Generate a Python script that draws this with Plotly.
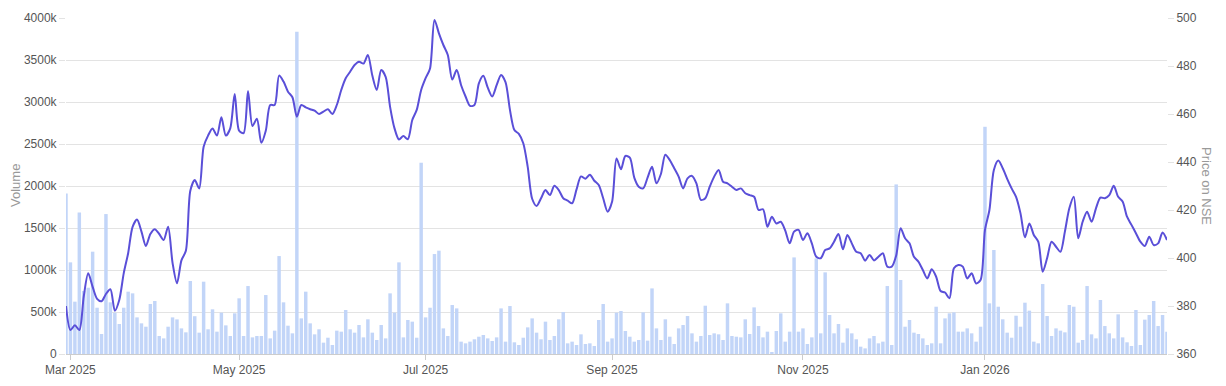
import pandas as pd
import plotly.graph_objects as go

# NSE trading holidays (no bars on these days)
HOLIDAYS = ["2025-03-14", "2025-03-31", "2025-04-10", "2025-04-14", "2025-04-18",
            "2025-05-01", "2025-08-15", "2025-08-27", "2025-10-02", "2025-10-22",
            "2025-11-05", "2025-12-25", "2026-01-26"]

# Daily volume, in thousands of shares
VOLUME_K = [
    1912, 1091, 623, 1686, 750, 789, 1218, 551, 238, 1666, 615, 492, 357, 551, 742, 722,
    436, 365, 325, 595, 631, 214, 186, 325, 436, 412, 305, 258, 869, 450, 254,
    861, 294, 532, 266, 492, 341, 214, 484, 663, 214, 809, 198, 214, 214, 702, 186,
    278, 1166, 615, 337, 246, 3836, 424, 742, 365, 234, 294, 135, 194, 107,
    278, 266, 524, 294, 254, 345, 198, 413, 254, 167, 345, 186, 722, 492, 1091, 198,
    405, 385, 194, 2277, 436, 551, 1190, 1230, 305, 214, 583, 543, 147,
    127, 147, 175, 206, 226, 186, 155, 198, 543, 147, 571, 139, 107, 194, 317, 424,
    254, 175, 385, 167, 214, 413, 500, 127, 147, 107, 234, 119, 127, 95, 405, 595,
    147, 186, 492, 512, 274, 206, 147, 167, 496, 159, 781, 305, 167, 413, 206, 119,
    305, 345, 452, 246, 147, 214, 575, 226, 246, 234, 167, 603, 214,
    206, 198, 413, 238, 555, 333, 198, 266, 20, 274, 484, 147, 266, 1150, 266, 305,
    119, 198, 1138, 246, 972, 464, 246, 357, 135, 305, 246, 175, 87, 67, 186,
    214, 127, 147, 809, 107, 2019, 881, 325, 405, 254, 238, 186, 107, 127, 563, 127,
    424, 484, 496, 266, 266, 305, 246, 147, 325, 2705, 603, 1238, 563, 413,
    254, 194, 456, 325, 611, 516, 147, 127, 833, 452, 214, 305, 278, 258, 583, 563,
    135, 167, 809, 234, 186, 643, 333, 246, 186, 472, 198, 139, 95, 524, 107, 409,
    464, 631, 333, 464, 266,
]

# Daily closing price on NSE
PRICE = [
    380, 370, 372, 370, 384, 393.6, 388, 383, 382, 385, 387, 378, 382.5, 393.6, 402, 413,
    416, 411, 405, 410, 412, 410, 407.5, 413, 398, 389.5, 399, 403, 428, 432.5, 429,
    446.4, 451, 454, 451, 458.6, 451, 454, 468.3, 453, 452, 469.6, 455, 458, 448, 453,
    463.75, 463.75, 476, 473.5, 469.3, 467, 458.9, 463.75, 462.8, 462, 461.4, 460, 461, 462, 460,
    463.75, 470, 474.9, 477.6, 480.4, 481.8, 481, 484.6, 476, 470, 478.3, 475.5, 463, 454,
    449.4, 450.8, 449.5, 457.5, 461.7, 470, 474.9, 479, 499.2, 493.6, 488.75, 484.6, 474.4,
    478.3, 472,
    467.3, 463.4, 463.75, 472.8, 475.9, 471, 467.3, 472, 476.3, 473.3, 461.7, 453.3, 451.7,
    447.8, 438, 424.7, 421.7, 424.9, 428.3, 426.2, 430.1, 428.3, 424.9, 423.9, 422.8, 428.6,
    434, 433, 434.7, 432.2, 430.4, 424.9,
    419.3, 423.4, 441.5, 437, 442.5, 441.8, 433.5, 429.7, 429, 433.5, 438, 431.1, 435, 443,
    440.8, 437.4, 433.9, 429, 433.2, 434.2, 431.1, 424.2, 424.9, 429.7, 433.9, 436.7, 431.8,
    431.1, 429.7,
    428.3, 429, 427, 426.2, 425.5, 420, 420.3, 413, 417.2, 414.4, 415.1, 411.5, 406.1, 411,
    411.7, 407.5, 410.3, 406.1, 400.5, 399.9, 403.3, 404, 406.8, 410, 403.6, 409.6, 406.1,
    402.6, 402, 398.9, 401.3,
    399, 400.5, 402, 396.4, 396.4, 401, 412.4, 408.2, 406.1, 400.5, 398.5, 395, 391.5, 395.3,
    392.2, 386.25, 385.6, 383.2, 395.7, 397.1, 396.4, 391.5, 393.6, 389.4, 390.8, 411.7, 420,
    436.7, 440.6, 437.4,
    433, 429, 425.5, 418.6, 408.6, 414.4, 409.6, 406.8, 394.3, 400, 406.8, 404.7, 402.6, 411,
    420.7, 425.5, 408.2, 415.1, 419.3, 415.1, 420.7, 425.2, 424.9, 426.2, 430.1, 425.5, 423.5,
    417.2, 413.8, 410.3, 406.8, 405, 408.9, 405.4, 406.1, 410.6, 407.5,
]

X_TICKS = ["2025-03-03", "2025-05-02", "2025-07-01", "2025-09-01", "2025-11-03", "2026-01-01"]
X_TICK_TEXT = ["Mar 2025", "May 2025", "Jul 2025", "Sep 2025", "Nov 2025", "Jan 2026"]
VOL_TICKS = [0, 500, 1000, 1500, 2000, 2500, 3000, 3500, 4000]
VOL_TICK_TEXT = ["0"] + [f"{v}k" for v in VOL_TICKS[1:]]
PRICE_TICKS = [360, 380, 400, 420, 440, 460, 480, 500]

n = min(len(VOLUME_K), len(PRICE))
dates = pd.date_range("2025-02-28", periods=n,
                      freq=pd.offsets.CustomBusinessDay(holidays=HOLIDAYS))

fig = go.Figure()
fig.add_trace(go.Bar(x=dates, y=VOLUME_K[:n], name="Volume",
                     marker=dict(color="#c2d5f8", line=dict(width=0)), yaxis="y"))
fig.add_trace(go.Scatter(x=dates, y=PRICE[:n], name="Price", mode="lines",
                         line=dict(color="#5a4fd8", width=2, shape="spline", smoothing=0.8),
                         yaxis="y2"))

grid = "#e3e3e3"
fig.update_layout(
    width=1226, height=386,
    margin=dict(l=66, r=59, t=18, b=32, autoexpand=False),
    paper_bgcolor="white", plot_bgcolor="white",
    showlegend=False, bargap=0.22,
    font=dict(family="Liberation Sans, Arial, sans-serif", size=12, color="#555555"),
    xaxis=dict(
        type="date", range=[dates[0], dates[-1]], automargin=False,
        rangebreaks=[dict(bounds=["sat", "mon"]), dict(values=HOLIDAYS)],
        tickvals=X_TICKS, ticktext=X_TICK_TEXT,
        showgrid=False, ticks="outside", ticklen=5, tickcolor="#cccccc",
        showline=True, linecolor="#cccccc", linewidth=1,
        tickfont=dict(size=12, color="#555555"),
    ),
    yaxis=dict(
        range=[0, 4000], tickvals=VOL_TICKS, ticktext=VOL_TICK_TEXT, automargin=False,
        showgrid=True, gridcolor=grid, gridwidth=1, zeroline=False,
        ticks="outside", ticklen=6, tickcolor=grid,
        tickfont=dict(size=12, color="#555555"),
    ),
    yaxis2=dict(
        range=[360, 500], tickvals=PRICE_TICKS, overlaying="y", side="right", automargin=False,
        showgrid=False, zeroline=False, ticks="outside", ticklen=6, tickcolor=grid,
        tickfont=dict(size=12, color="#555555"),
    ),
    annotations=[
        dict(text="Volume", textangle=-90, xref="paper", yref="paper",
             x=0.0, xshift=-51, y=0.5, xanchor="center", yanchor="middle", showarrow=False,
             font=dict(size=13, color="#999999")),
        dict(text="Price on NSE", textangle=90, xref="paper", yref="paper",
             x=1.0, xshift=40, y=0.5, xanchor="center", yanchor="middle", showarrow=False,
             font=dict(size=13, color="#999999")),
    ],
)

fig.write_html("out.html", config={"displayModeBar": False},
               post_script="document.body.style.margin='0';document.body.style.padding='0';")
